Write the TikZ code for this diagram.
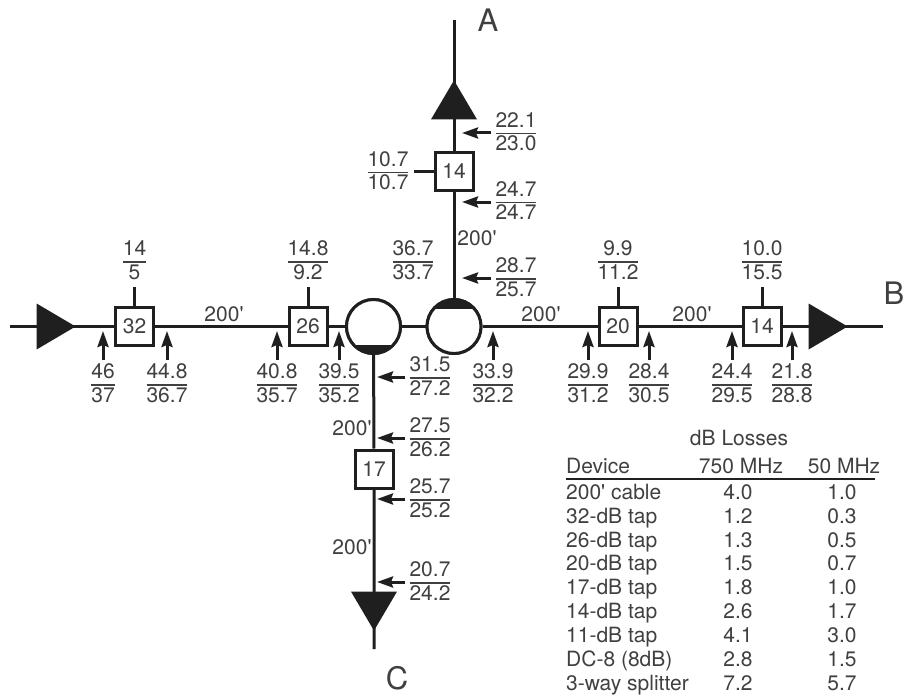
\documentclass[tikz,border=0pt]{standalone}
\usepackage{fontspec}
\usepackage{array}
\setmainfont{TeX Gyre Heros}[Ligatures=TeXOff]
\usetikzlibrary{shapes.geometric,arrows.meta}
\definecolor{ink}{gray}{0.12}
\definecolor{txt}{gray}{0.25}
\newcommand{\frc}[2]{\renewcommand{\arraystretch}{0}\setlength{\arrayrulewidth}{1.5pt}\begin{tabular}[t]{@{}c@{}}\rule[-5.5pt]{0pt}{15pt}#1\\\hline\rule[-4pt]{0pt}{20.5pt}#2\end{tabular}}
\tikzset{
 x=1pt,y=-1pt,
 every node/.append style={font=\fontsize{21}{23}\selectfont,text=txt},
 wire/.style={draw=ink,line width=3pt},
 tapbox/.style={draw=ink,line width=3pt,fill=white,minimum size=38pt,inner sep=0pt,rectangle},
 split/.style={draw=ink,line width=3pt,fill=white,circle,minimum size=54pt,inner sep=0pt},
 amp/.style={isosceles triangle,isosceles triangle apex angle=62,fill=ink,inner sep=0pt,minimum height=39pt,minimum width=46pt,isosceles triangle stretches},
 val/.style={anchor=base,inner sep=0pt},
 ptr/.style={draw=ink,line width=3pt,-{Stealth[length=16pt,width=11pt,inset=2pt]}},
 lab/.style={inner sep=0pt},
 port/.style={inner sep=0pt,font=\fontsize{31}{33}\selectfont},
 cell/.style={inner sep=0pt,anchor=base},
 cellw/.style={inner sep=0pt,anchor=base west},
}
\newcommand{\fr}[5]{\node[val] (#1) at (#2,#3-5.5) {\frc{#4}{#5}};}
\begin{document}
\begin{tikzpicture}
\useasboundingbox (0,0) rectangle (908,698);
% free ends
\coordinate (wL) at (10,326.5);
\coordinate (wR) at (883,326.5);
\coordinate (wA) at (454,20);
\coordinate (wC) at (374,649);
% trunk lines
\node[tapbox] (t32) at (134.5,326.5) {};
\node[tapbox] (t26) at (308,326.5) {};
\node[tapbox] (t20) at (618,326.5) {};
\node[tapbox] (t14b) at (762,326.5) {};
\node[tapbox] (t14a) at (454,171.5) {};
\node[tapbox] (t17) at (374,469) {};
\node[split] (s1) at (373.5,326.5) {};
\node[split] (s2) at (454,326.5) {};
\coordinate (d32) at (134.5,287);
\coordinate (d26) at (308,287);
\coordinate (d20) at (618,287);
\coordinate (d14b) at (762,287);
\coordinate (d14a) at (414,171.5);
\draw[wire] (wL) -- (t32) -- (t26) -- (s1) -- (s2) -- (t20) -- (t14b) -- (wR);
\draw[wire] (wA) -- (t14a) -- (s2);
\draw[wire] (s1) -- (t17) -- (wC);
\draw[wire] (t32) -- (d32);
\draw[wire] (t26) -- (d26);
\draw[wire] (t20) -- (d20);
\draw[wire] (t14b) -- (d14b);
\draw[wire] (t14a) -- (d14a);
% device faces above wires
\node[tapbox] at (t32) {32};
\node[tapbox] at (t26) {26};
\node[tapbox] at (t20) {20};
\node[tapbox] at (t14b) {14};
\node[tapbox] at (t14a) {14};
\node[tapbox] at (t17) {17};
\node[split] at (s1) {};
\node[split] at (s2) {};
\begin{scope}
\clip (373.5,326.5) circle (27pt);
\fill[ink] (340,345) rectangle (410,360);
\end{scope}
\begin{scope}
\clip (454,326.5) circle (27pt);
\fill[ink] (420,290) rectangle (490,309);
\end{scope}
% amplifiers
\node[amp,anchor=apex] (aL) at (76,326.5) {};
\node[amp,anchor=apex] (aR) at (848,326.5) {};
\node[amp,shape border rotate=90,anchor=apex] (aA) at (454,80) {};
\node[amp,shape border rotate=-90,anchor=apex] (aC) at (374,631) {};
% port letters
\node[port] (lA) at (488,20) {A};
\node[port] (lB) at (894,293) {B};
\node[port] (lC) at (397,678) {C};
% cable lengths
\node[lab] (c1) at (224,314) {200'};
\node[lab] (c2) at (541,314) {200'};
\node[lab] (c3) at (692,314) {200'};
\node[lab] (c4) at (477,238) {200'};
\node[lab] (c5) at (352,428) {200'};
\node[lab] (c6) at (352,547) {200'};
% levels
\fr{f1}{134.5}{261}{14}{5}
\fr{f2}{308}{261}{14.8}{9.2}
\fr{f3}{413}{261}{36.7}{33.7}
\fr{f4}{618}{261}{9.9}{11.2}
\fr{f5}{762}{261}{10.0}{15.5}
\fr{f6}{388}{172}{10.7}{10.7}
\fr{g1}{103}{384}{46}{37}
\fr{g2}{167}{384}{44.8}{36.7}
\fr{g3}{277}{384}{40.8}{35.7}
\fr{g4}{339}{384}{39.5}{35.2}
\fr{g5}{493}{384}{33.9}{32.2}
\fr{g6}{588}{384}{29.9}{31.2}
\fr{g7}{649}{384}{28.4}{30.5}
\fr{g8}{732}{384}{24.4}{29.5}
\fr{g9}{792}{384}{21.8}{28.8}
\fr{h1}{516}{133}{22.1}{23.0}
\fr{h2}{516}{202}{24.7}{24.7}
\fr{h3}{516}{278}{28.7}{25.7}
\fr{h4}{430}{377}{31.5}{27.2}
\fr{h5}{430}{438}{27.5}{26.2}
\fr{h6}{430}{499}{25.7}{25.2}
\fr{h7}{430}{582}{20.7}{24.2}
% pointers
\foreach \xx in {103,167,277,339,493,588,649,732,792}{
  \draw[ptr] (\xx,360) -- (\xx,331);
}
\foreach \yy in {133,202,278}{\draw[ptr] (491,\yy) -- (462,\yy);}
\foreach \yy in {377,438,499,582}{\draw[ptr] (405,\yy) -- (377,\yy);}
% table
\node[cell] (tt) at (739,445) {dB Losses};
\node[cellw] (th0) at (566,473) {Device};
\node[cell] (th1) at (741,473) {750 MHz};
\node[cell] (th2) at (844,473) {50 MHz};
\draw[draw=ink,line width=1.5pt] (566,479) -- (875,479);
\foreach \yy/\a/\b/\c in {499/{200' cable}/4.0/1.0,523/{32-dB tap}/1.2/0.3,547/{26-dB tap}/1.3/0.5,570/{20-dB tap}/1.5/0.7,594/{17-dB tap}/1.8/1.0,618/{14-dB tap}/2.6/1.7,642/{11-dB tap}/4.1/3.0,666/{DC-8 (8dB)}/2.8/1.5,690/{3-way splitter}/7.2/5.7}{
  \node[cellw] at (566,\yy) {\a};
  \node[cell] at (738,\yy) {\b};
  \node[cell] at (842,\yy) {\c};
}
\end{tikzpicture}
\end{document}
